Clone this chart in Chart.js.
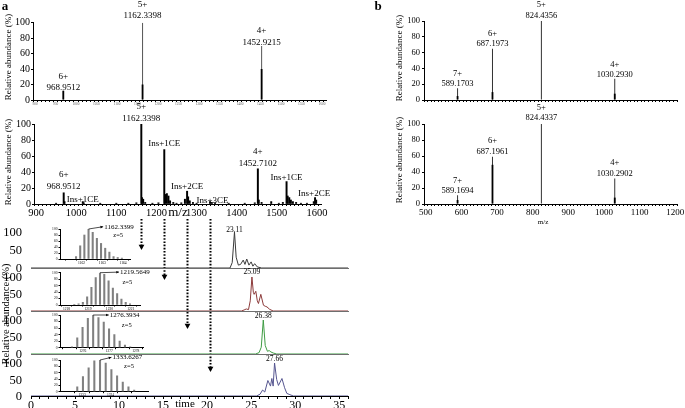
<!DOCTYPE html>
<html>
<head>
<meta charset="utf-8">
<script src="https://cdn.jsdelivr.net/npm/chart.js@4.4.1/dist/chart.umd.min.js"></script>
<style>
  html, body { margin: 0; padding: 0; background: #fff; }
  #stage { position: relative; width: 685px; height: 408px; overflow: hidden; background: #fff; }
  #stage canvas { position: absolute; left: 0; top: 0; }
</style>
</head>
<body>
<div id="stage"></div>
<script>
// ---------- panel a, top spectrum ----------
const topMz = [968.95, 1162.34, 1452.92];
const topTall = [12, 100, 70];
const topCluster = [12, 20, 40];
const topTexts = [['6+', '968.9512'], ['5+', '1162.3398'], ['4+', '1452.9215']];

// ---------- panel a, spectrum with CE adducts ----------
const midMz = [950, 968.95, 971, 1016.5, 1019, 1060, 1100, 1130, 1150, 1162.34, 1164, 1167, 1172, 1190, 1205,
  1219.56, 1221.5, 1226, 1230, 1234, 1242, 1250, 1262, 1271, 1276.39, 1279, 1283, 1291, 1300,
  1333.6, 1338, 1346, 1380, 1420, 1445, 1452.71, 1455, 1462, 1486, 1505, 1515,
  1524.2, 1527, 1531, 1535, 1540, 1548, 1560, 1575, 1592, 1595.2, 1598];
const midInt = [1, 14, 3, 3, 1.5, 1, 1, 1, 1.5, 100, 8, 6, 2, 1, 1.5,
  68, 12, 13, 10, 4, 2, 1, 1.5, 6, 16, 9, 4, 2, 1,
  3, 2, 1.5, 1, 1, 1.5, 44, 5, 2, 3, 1, 2,
  28, 10, 8, 5, 3, 2, 1, 1, 3, 8, 5];

// ---------- extracted ion chromatograms ----------
const trace1Time = [0, 22.6, 22.85, 23.11, 23.3, 23.55, 23.8, 24.1, 24.3, 24.5, 24.75, 25.0, 25.2, 25.4, 25.7, 26.2, 36];
const trace1Int = [0, 0, 15, 100, 30, 8, 10, 22, 10, 25, 8, 17, 5, 12, 3, 0, 0];
const trace2Time = [0, 23.9, 24.2, 24.45, 24.7, 24.9, 25.09, 25.25, 25.34, 25.53, 25.7, 25.83, 26.1, 26.4, 26.6, 26.8, 27.1, 27.5, 36];
const trace2Int = [0, 0, 3, 6, 4, 30, 100, 55, 49, 58, 30, 22, 49, 17, 14, 12, 5, 0, 0];
const trace3Time = [0, 25.5, 25.9, 26.15, 26.38, 26.6, 26.85, 27.05, 27.25, 27.5, 27.9, 36];
const trace3Int = [0, 0, 4, 20, 100, 25, 8, 10, 6, 3, 0, 0];
const trace4Time = [0, 25.6, 26.0, 26.3, 26.55, 26.9, 27.2, 27.35, 27.5, 27.66, 27.9, 28.1, 28.5, 28.8, 29.05, 29.4, 29.8, 36];
const trace4Int = [0, 0, 5, 18, 12, 47, 30, 53, 30, 100, 50, 32, 53, 25, 8, 4, 0, 0];
const apexTimes = [23.11, 25.09, 26.38, 27.66];
const chromYTicks = [0, 50, 100];
const traceColors = ['#3a3a3a', '#8c3a3a', '#3f9c44', '#55558f'];

// ---------- isotope insets (z = 5) ----------
const iso1Mz = [1161.74, 1161.94, 1162.14, 1162.34, 1162.54, 1162.74, 1162.94, 1163.14, 1163.34, 1163.54, 1163.74, 1163.94];
const iso1Int = [8, 44, 80, 100, 89, 69, 52, 36, 23, 8, 5, 3];
const iso2Mz = [1218.36, 1218.56, 1218.76, 1218.96, 1219.16, 1219.36, 1219.56, 1219.76, 1219.96, 1220.16, 1220.36, 1220.56, 1220.76, 1220.96];
const iso2Int = [2, 4, 8, 25, 55, 85, 100, 95, 75, 52, 35, 18, 8, 4];
const iso3Mz = [1275.59, 1275.79, 1275.99, 1276.19, 1276.39, 1276.59, 1276.79, 1276.99, 1277.19, 1277.39, 1277.59, 1277.79];
const iso3Int = [3, 30, 62, 90, 100, 92, 78, 58, 40, 20, 8, 3];
const iso4Mz = [1332.83, 1333.03, 1333.23, 1333.43, 1333.63, 1333.83, 1334.03, 1334.23, 1334.43, 1334.63, 1334.83];
const iso4Int = [15, 48, 75, 97, 100, 90, 70, 50, 30, 15, 5];
const isoApex = [1162.34, 1219.56, 1276.39, 1333.63];
const isoTexts = ['1162.3399', '1219.5649', '1276.3934', '1333.6267'];

// ---------- panel b ----------
const bMz = [589.17, 687.20, 824.44, 1030.29];
const bTopTall = [15, 65, 100, 27];
const bTopBase = [5, 10, 0, 8];
const bTopTexts = [['7+', '589.1703'], ['6+', '687.1973'], ['5+', '824.4356'], ['4+', '1030.2930']];
const bBotTall = [11, 59, 100, 32];
const bBotBase = [5, 49, 0, 8];
const bBotTexts = [['7+', '589.1694'], ['6+', '687.1961'], ['5+', '824.4337'], ['4+', '1030.2902']];

// ------------------------------------------------------------------
const W = 685, H = 408;
const SERIF = "'Liberation Serif', 'DejaVu Serif', serif";
Chart.defaults.font.family = SERIF;
Chart.defaults.color = '#000';

const stage = document.getElementById('stage');

function points(xs, ys) {
  return xs.map((v, i) => ({ x: v, y: ys[i] }));
}

/**
 * Every chart gets a full-page transparent canvas; layout padding puts
 * its plot area where it sits in the figure.
 */
function plotChart({ type = 'bar', area, yW = 0, xH = 0, datasets, x, y, plugins = [] }) {
  const canvas = document.createElement('canvas');
  canvas.width = W;
  canvas.height = H;
  stage.appendChild(canvas);
  x.afterFit = s => { s.height = xH; s.paddingLeft = 0; s.paddingRight = 0; };
  y.afterFit = s => { s.width = yW; s.paddingTop = 0; s.paddingBottom = 0; };
  return new Chart(canvas, {
    type,
    data: { datasets },
    options: {
      responsive: false,
      animation: false,
      devicePixelRatio: 1,
      events: [],
      layout: {
        padding: { left: area.left - yW, top: area.top, right: W - area.right, bottom: H - area.bottom - xH }
      },
      scales: { x, y },
      plugins: { legend: { display: false }, tooltip: { enabled: false } }
    },
    plugins
  });
}

function linX(min, max, step, o = {}) {
  const ticks = {
    stepSize: step, autoSkip: false, maxRotation: 0, minRotation: 0, includeBounds: false,
    display: o.labels !== false, padding: o.pad ?? 1,
    font: { size: o.size ?? 10 }, color: o.color ?? '#000'
  };
  if (o.callback) ticks.callback = o.callback;
  return {
    type: 'linear', min, max, ticks,
    grid: { display: o.ticks !== false, drawOnChartArea: false, tickLength: o.tickLength ?? 2, color: o.tickColor ?? '#000' },
    border: { display: true, color: o.axisColor ?? '#000', width: 1 }
  };
}

function linY(max, step, o = {}) {
  return {
    type: 'linear', min: 0, max,
    ticks: { stepSize: step, autoSkip: false, display: o.labels !== false, padding: o.pad ?? 1, font: { size: o.size ?? 10 }, color: '#000' },
    grid: { display: o.ticks !== false, drawOnChartArea: false, tickLength: o.tickLength ?? 2, color: '#000' },
    border: { display: o.axis !== false, color: '#000', width: 1 }
  };
}

// text above peaks, baseline of the last line at a given abundance level
function labelPlugin(items, size, lineHeight) {
  return {
    id: 'peakLabels',
    afterDatasetsDraw(chart) {
      const { ctx, scales } = chart;
      ctx.save();
      ctx.fillStyle = '#000';
      ctx.font = size + 'px ' + SERIF;
      ctx.textAlign = 'center';
      ctx.textBaseline = 'alphabetic';
      items.forEach(item => {
        const px = scales.x.getPixelForValue(item.x);
        let py = scales.y.getPixelForValue(item.level);
        for (let i = item.lines.length - 1; i >= 0; i--) {
          ctx.fillText(item.lines[i], px, py);
          py -= lineHeight;
        }
      });
      ctx.restore();
    }
  };
}

function arrowHead(ctx, x0, y0, x1, y1, len, spread) {
  const ang = Math.atan2(y1 - y0, x1 - x0);
  ctx.beginPath();
  ctx.moveTo(x1, y1);
  ctx.lineTo(x1 - len * Math.cos(ang - spread), y1 - len * Math.sin(ang - spread));
  ctx.lineTo(x1 - len * Math.cos(ang + spread), y1 - len * Math.sin(ang + spread));
  ctx.closePath();
  ctx.fill();
}

// arrow from the apex isotope peak to its m/z label, plus the charge
function calloutPlugin(c) {
  return {
    id: 'callout',
    afterDatasetsDraw(chart) {
      const { ctx, scales } = chart;
      const px = scales.x.getPixelForValue(c.mz);
      const py = scales.y.getPixelForValue(100);
      const lx = px + c.dx, ly = py + c.dy;
      ctx.save();
      ctx.strokeStyle = '#000';
      ctx.fillStyle = '#000';
      ctx.lineWidth = 0.7;
      ctx.beginPath();
      ctx.moveTo(px, py);
      ctx.lineTo(lx - 1, ly);
      ctx.stroke();
      arrowHead(ctx, px, py, lx - 1, ly, 3, 0.45);
      ctx.font = '7px ' + SERIF;
      ctx.textAlign = 'left';
      ctx.textBaseline = 'middle';
      ctx.fillText(c.text, lx, ly);
      ctx.font = '6.5px ' + SERIF;
      ctx.textAlign = 'center';
      ctx.fillText('z=5', px + c.zdx, py + c.zdy);
      ctx.restore();
    }
  };
}

// dotted arrows dropping from the m/z axis to each chromatogram
function dropArrowPlugin(mzs, yStart, yEnds) {
  return {
    id: 'dropArrows',
    afterDraw(chart) {
      const { ctx, scales } = chart;
      ctx.save();
      ctx.strokeStyle = '#000';
      ctx.fillStyle = '#000';
      mzs.forEach((mz, i) => {
        const px = Math.round(scales.x.getPixelForValue(mz)) + 0.5;
        ctx.lineWidth = 2;
        ctx.setLineDash([1.6, 1.6]);
        ctx.beginPath();
        ctx.moveTo(px, yStart);
        ctx.lineTo(px, yEnds[i] - 5);
        ctx.stroke();
        ctx.setLineDash([]);
        arrowHead(ctx, px, yStart, px, yEnds[i], 6, 0.5);
      });
      ctx.restore();
    }
  };
}

function addText(txt, cx, cy, size, o = {}) {
  const d = document.createElement('div');
  d.textContent = txt;
  const shift = o.right ? 'translate(-100%,-50%)' : 'translate(-50%,-50%)';
  d.style.cssText = 'position:absolute;left:' + cx + 'px;top:' + cy + 'px;white-space:nowrap;line-height:1;' +
    'font:' + (o.bold ? 'bold ' : '') + size + 'px ' + SERIF + ';color:#000;z-index:5;' +
    'transform:' + shift + (o.rotate ? ' rotate(-90deg)' : '') + ';';
  stage.appendChild(d);
}

// ---------- panel a: top spectrum ----------
plotChart({
  area: { left: 33, right: 326, top: 22.7, bottom: 100 }, yW: 25, xH: 6,
  datasets: [
    { data: points(topMz, topCluster), backgroundColor: '#000', grouped: false, maxBarThickness: 1.8, barPercentage: 1 },
    { data: points(topMz, topTall), backgroundColor: '#555', grouped: false, maxBarThickness: 1, barPercentage: 1 }
  ],
  x: linX(900, 1605, 10, { size: 3.5, color: '#666', pad: 0, callback: v => (v % 50 === 0 ? v : '') }),
  y: linY(100, 20, { size: 10 }),
  plugins: [labelPlugin(topMz.map((m, i) => ({ x: m, level: [12.5, 106, 71.5][i], lines: topTexts[i] })), 9, 11.5)]
});

// ---------- panel a: spectrum with adducts ----------
const midLabels = [
  { x: 968.95, level: 18.7, lines: ['6+', '968.9512'] },
  { x: 1016.5, level: 2, lines: ['Ins+1CE'] },
  { x: 1162.34, level: 104, lines: ['5+', '1162.3398'] },
  { x: 1219.56, level: 72, lines: ['Ins+1CE'] },
  { x: 1276.39, level: 18.7, lines: ['Ins+2CE'] },
  { x: 1339.8, level: 1, lines: ['Ins+3CE'] },
  { x: 1452.71, level: 48, lines: ['4+', '1452.7102'] },
  { x: 1524.2, level: 30, lines: ['Ins+1CE'] },
  { x: 1593, level: 10, lines: ['Ins+2CE'] }
];
plotChart({
  area: { left: 34, right: 321, top: 124, bottom: 204 }, yW: 26, xH: 16,
  datasets: [{ data: points(midMz, midInt), backgroundColor: '#000', barThickness: 1.3 }],
  x: linX(900, 1605, 10, { size: 10.5, callback: v => (v % 100 === 0 ? v : '') }),
  y: linY(100, 20, { size: 10 }),
  plugins: [labelPlugin(midLabels, 9, 12), dropArrowPlugin(isoApex, 219, [250, 280, 329, 372])]
});

// ---------- panel a: chromatograms ----------
const traces = [[trace1Time, trace1Int], [trace2Time, trace2Int], [trace3Time, trace3Int], [trace4Time, trace4Int]];
const rowAreas = [
  { left: 31, right: 348, top: 232, bottom: 268 },
  { left: 31, right: 348, top: 277, bottom: 311 },
  { left: 31, right: 348, top: 320, bottom: 354 },
  { left: 31, right: 348, top: 363, bottom: 396 }
];
const apexLevels = [101, 110, 107, 107.5];
traces.forEach(([t, v], i) => {
  const last = i === traces.length - 1;
  const row = plotChart({
    type: 'line',
    area: rowAreas[i], yW: 31, xH: last ? 13 : 0,
    datasets: [{ data: points(t, v), borderColor: traceColors[i], borderWidth: 1, pointRadius: 0, tension: 0, fill: false }],
    x: last
      ? linX(0, 36, 1, { size: 12, pad: 0, tickLength: 3, callback: val => (val % 5 === 0 ? val : '') })
      : linX(0, 36, 1, { labels: false, ticks: false, axisColor: '#6e6e6e' }),
    y: linY(100, 50, { labels: false, ticks: false, axis: false }),
    plugins: [labelPlugin([{ x: apexTimes[i], level: apexLevels[i], lines: [apexTimes[i].toFixed(2)] }], 7.5, 8)]
  });
  // y tick labels as page text, placed through the row's own y scale
  chromYTicks.forEach(val => {
    addText(String(val), row.chartArea.left - 9, row.scales.y.getPixelForValue(val), 12.5, { right: true });
  });
});

// ---------- isotope insets ----------
const insets = [
  { mz: iso1Mz, val: iso1Int, range: [1161.25, 1164.05], area: { left: 60, right: 130, top: 229, bottom: 259 }, dx: 15.6, dy: -2.3, zdx: 29.6, zdy: 6.7 },
  { mz: iso2Mz, val: iso2Int, range: [1217.96, 1221.16], area: { left: 60, right: 140, top: 272.7, bottom: 305 }, dx: 20, dy: -0.6, zdx: 27.3, zdy: 10 },
  { mz: iso3Mz, val: iso3Int, range: [1275.40, 1278.01], area: { left: 60, right: 143, top: 315, bottom: 347.7 }, dx: 16.6, dy: 0, zdx: 33.6, zdy: 10 },
  { mz: iso4Mz, val: iso4Int, range: [1332.61, 1334.93], area: { left: 60, right: 148, top: 360, bottom: 391.7 }, dx: 12.4, dy: -2.7, zdx: 29, zdy: 6.7 }
];
insets.forEach((ins, i) => {
  plotChart({
    area: ins.area, yW: 11, xH: 5,
    datasets: [{ data: points(ins.mz, ins.val), backgroundColor: '#808080', barThickness: 1.4 }],
    x: linX(ins.range[0], ins.range[1], 0.5, { size: 3.6, pad: 0, tickLength: 1.5, callback: v => (Number.isInteger(v) ? v : '') }),
    y: linY(100, 20, { size: 3.6, pad: 1, tickLength: 1.5 }),
    plugins: [calloutPlugin({ mz: isoApex[i], text: isoTexts[i], dx: ins.dx, dy: ins.dy, zdx: ins.zdx, zdy: ins.zdy })]
  });
});

// ---------- panel b ----------
plotChart({
  area: { left: 424, right: 677, top: 21, bottom: 100 }, yW: 22, xH: 3,
  datasets: [
    { data: points(bMz, bTopBase), backgroundColor: '#000', grouped: false, maxBarThickness: 1.8, barPercentage: 1 },
    { data: points(bMz, bTopTall), backgroundColor: '#333', grouped: false, maxBarThickness: 1, barPercentage: 1 }
  ],
  x: linX(500, 1200, 10, { labels: false }),
  y: linY(100, 20, { size: 8.5, pad: 2 }),
  plugins: [labelPlugin(bMz.map((m, i) => ({ x: m, level: [17.3, 68, 103.8, 29][i], lines: bTopTexts[i] })), 8.5, 10.5)]
});
plotChart({
  area: { left: 424, right: 677, top: 124, bottom: 204 }, yW: 22, xH: 14,
  datasets: [
    { data: points(bMz, bBotBase), backgroundColor: '#000', grouped: false, maxBarThickness: 1.8, barPercentage: 1 },
    { data: points(bMz, bBotTall), backgroundColor: '#333', grouped: false, maxBarThickness: 1, barPercentage: 1 }
  ],
  x: linX(500, 1200, 10, { size: 9, callback: v => (v % 100 === 0 ? v : '') }),
  y: linY(100, 20, { size: 8.5, pad: 2 }),
  plugins: [labelPlugin(bMz.map((m, i) => ({ x: m, level: [13.75, 63, 105, 35.4][i], lines: bBotTexts[i] })), 8.5, 10.5)]
});

// ---------- free text ----------
addText('a', 5, 6, 13, { bold: true });
addText('b', 378, 6, 13, { bold: true });
addText('Relative abundance (%)', 8, 57, 9, { rotate: true });
addText('Relative abundance (%)', 8, 162, 9, { rotate: true });
addText('Relative abundance (%)', 5, 314, 10.5, { rotate: true });
addText('Relative abundance (%)', 399, 58, 9, { rotate: true });
addText('Relative abundance (%)', 399, 160, 9, { rotate: true });
addText('m/z', 178, 212, 13);
addText('time', 185, 403, 11);
addText('m/z', 543, 222, 7);
</script>
</body>
</html>
